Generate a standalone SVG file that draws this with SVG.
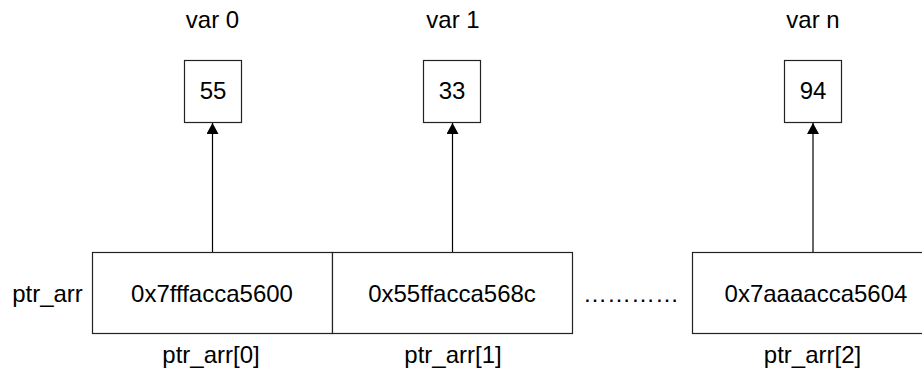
<svg xmlns="http://www.w3.org/2000/svg" width="922" height="373" viewBox="0 0 922 373">
<style>
text{font-family:"Liberation Sans",Arial,sans-serif;font-size:24px;fill:#000;text-anchor:middle}
.box{fill:#fff;stroke:#222;stroke-width:1.2}
.conn{stroke:#000;stroke-width:1.2;fill:none}
</style>
<defs>
<marker id="arr" markerWidth="12" markerHeight="12" refX="11" refY="6" orient="auto" markerUnits="userSpaceOnUse">
<path d="M0,0 L11,6 L0,12 Z" fill="#000"/>
</marker>
</defs>
<rect width="922" height="373" fill="#fff"/>
<g id="var0"><text x="212.5" y="28">var 0</text><rect class="box" x="184.5" y="60.5" width="57" height="62"/><text x="213" y="99">55</text></g>
<g id="var1"><text x="453" y="28">var 1</text><rect class="box" x="423.5" y="60.5" width="57" height="62"/><text x="452" y="99">33</text></g>
<g id="varn"><text x="813" y="28">var n</text><rect class="box" x="784.5" y="60.5" width="57" height="62"/><text x="813" y="99">94</text></g>
<g id="label"><text x="47.5" y="302">ptr_arr</text></g>
<g id="cell0"><rect class="box" x="92.5" y="252.5" width="240" height="81"/><text x="212" y="302">0x7fffacca5600</text><text x="211" y="363">ptr_arr[0]</text></g>
<g id="cell1"><rect class="box" x="332.5" y="252.5" width="240" height="81"/><text x="452" y="302">0x55ffacca568c</text><text x="453" y="363">ptr_arr[1]</text></g>
<g id="dots"><text x="631" y="302">…………</text></g>
<g id="cell2"><rect class="box" x="692.5" y="252.5" width="241" height="81"/><text x="816" y="302">0x7aaaacca5604</text><text x="812.5" y="363">ptr_arr[2]</text></g>
<g id="connectors">
<line class="conn" x1="212.5" y1="252" x2="212.5" y2="123" marker-end="url(#arr)"/>
<line class="conn" x1="452.5" y1="252" x2="452.5" y2="123" marker-end="url(#arr)"/>
<line class="conn" x1="813" y1="252" x2="813" y2="123" marker-end="url(#arr)"/>
</g>
</svg>
